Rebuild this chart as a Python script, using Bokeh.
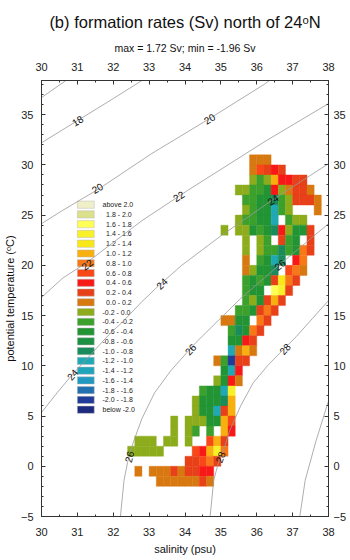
from bokeh.plotting import figure
from bokeh.models import Range1d, LinearAxis, FixedTicker, ColumnDataSource, LinearColorMapper, Title
from bokeh.transform import transform
from bokeh.core.properties import value
from bokeh.embed import file_html
from bokeh.resources import INLINE

FONT = "Liberation Sans"

# ---------------- data ----------------
title_text = "(b) formation rates (Sv) north of 24\u1d52N"
subtitle_text = "max = 1.72 Sv; min = -1.96 Sv"
x_title = "salinity (psu)"
y_title = "potential temperature (\u1d52C)"

sal_ticks = [30, 31, 32, 33, 34, 35, 36, 37, 38]
sal_minor = [30.5, 31.5, 32.5, 33.5, 34.5, 35.5, 36.5, 37.5]
temp_ticks = [-5, 0, 5, 10, 15, 20, 25, 30, 35]
temp_minor = list(range(-5, 39))

cell_dS = 0.2   # salinity bin width (psu)
cell_dT = 1.0   # temperature bin height (degC)

# bin edges of the colour classes and colours (low -> high), incl. below/above
bin_edges = [-2.0, -1.8, -1.6, -1.4, -1.2, -1.0, -0.8, -0.6, -0.4, -0.2, 0.0,
             0.2, 0.4, 0.6, 0.8, 1.0, 1.2, 1.4, 1.6, 1.8, 2.0]
palette = ["#1c2a80", "#203c98", "#2070b0", "#2098c0", "#20a4bc", "#20a8b4",
           "#1a8c5c", "#1a9040", "#229434", "#3ca02c", "#8cac1c",
           "#d87810", "#e84018", "#f81818", "#f84818", "#f87818", "#f8b010",
           "#f8e818", "#f8f028", "#ffff58", "#dce08c", "#f0f0c8"]

# formation-rate grid: bottom temperature of each row, left salinity of each cell, value (Sv)
row_T = [30, 29, 28, 27, 26, 25, 24, 23, 22, 21, 20, 19, 18, 17, 16, 15, 14, 13,
         12, 11, 10, 9, 8, 7, 6, 5, 4, 3, 2, 1, 0, -1, -2]
row_S = [
    [35.8, 36.0, 36.2],
    [35.8, 36.0, 36.2, 36.4, 36.6],
    [35.8, 36.0, 36.2, 36.4, 36.6, 36.8, 37.0, 37.2],
    [35.4, 35.6, 35.8, 36.0, 36.2, 36.4, 36.6, 36.8, 37.0, 37.2, 37.4],
    [35.6, 35.8, 36.0, 36.2, 36.4, 36.6, 36.8, 37.0, 37.2, 37.4, 37.6],
    [35.6, 35.8, 36.0, 36.2, 36.4, 36.6, 36.8, 37.6],
    [35.4, 35.6, 35.8, 36.0, 36.2, 36.4, 36.8, 37.0, 37.2],
    [35.0, 35.4, 35.6, 35.8, 36.0, 36.2, 36.4, 36.6, 36.8, 37.0, 37.2, 37.4],
    [35.6, 36.0, 36.2, 36.6, 36.8, 37.0, 37.4],
    [35.6, 36.0, 36.2, 36.4, 36.6, 36.8, 37.0, 37.2, 37.4],
    [35.6, 36.0, 36.2, 36.4, 36.6, 37.0, 37.2],
    [35.6, 35.8, 36.0, 36.2, 36.4, 36.8, 37.0, 37.2],
    [35.6, 35.8, 36.0, 36.2, 36.4, 36.6, 36.8, 37.0],
    [35.6, 35.8, 36.0, 36.4, 36.6, 36.8],
    [35.6, 35.8, 36.0, 36.2, 36.4, 36.6],
    [35.4, 35.6, 35.8, 36.0, 36.2, 36.4],
    [35.0, 35.2, 35.4, 35.6, 36.0, 36.2],
    [35.2, 35.4, 35.6, 35.8, 36.0],
    [35.2, 35.4, 35.6, 35.8],
    [35.2, 35.4, 35.6, 35.8],
    [34.8, 35.0, 35.2, 35.4, 35.6],
    [35.0, 35.2, 35.4],
    [34.8, 35.0, 35.2, 35.4],
    [34.4, 34.6, 34.8, 35.0, 35.2],
    [34.2, 34.4, 34.6, 34.8, 35.0, 35.2],
    [34.2, 34.4, 34.6, 34.8, 35.0, 35.2],
    [33.6, 34.0, 34.2, 34.4, 34.6, 34.8, 35.0, 35.2],
    [33.6, 34.0, 34.2, 34.6, 35.0, 35.2],
    [32.6, 32.8, 33.0, 33.4, 33.6, 34.0, 34.6, 34.8, 35.0],
    [32.4, 32.6, 32.8, 33.0, 33.2, 34.2, 34.4, 34.6, 34.8, 35.0],
    [34.0, 34.2, 34.4, 34.6, 34.8],
    [32.6, 33.0, 33.2, 33.4, 33.6, 33.8, 34.0, 34.2, 34.4, 34.6],
    [33.2, 33.4, 33.6, 33.8, 34.0, 34.2, 34.4, 34.6],
]
row_v = [
    [0.12, 0.08, 0.15],
    [0.11, 0.66, 0.33, 0.52, 0.36],
    [-0.08, -0.31, -0.12, 1.08, 0.48, 0.55, 0.32, 0.27],
    [-0.14, -0.06, -0.33, -0.28, -0.52, 0.47, -0.11, 0.09, 0.31, 0.35, 0.13],
    [-0.27, -0.35, -0.55, -0.48, -0.86, -0.38, -0.15, 0.34, 0.29, 0.37, 0.07],
    [-0.09, -0.33, -0.51, -0.57, -1.08, -0.29, -0.13, 0.14],
    [-0.12, -0.25, -0.36, -0.53, -0.47, -1.12, -0.31, -0.07, -0.16],
    [-0.11, -0.17, -0.05, -0.54, -0.32, -0.58, -0.88, 0.51, -0.13, -0.46, -0.52, 0.28],
    [-0.14, -0.08, -0.34, 0.27, -0.29, -0.49, 0.33],
    [-0.12, -0.16, -0.26, -0.37, -0.91, -0.31, -0.55, 0.86, 0.31],
    [0.08, -0.33, -0.56, -1.05, -0.84, 0.46, 0.93],
    [0.13, -0.07, -0.49, -0.53, -0.85, 0.64, 0.87, 0.11],
    [-0.33, -0.52, -0.28, -0.57, 0.35, 1.34, 0.91, 0.29],
    [-0.36, -0.55, -0.47, 1.72, 1.47, 0.38],
    [-0.31, -0.11, -0.52, 0.36, 1.06, 0.33],
    [-0.27, -0.35, -0.46, 0.29, 0.85, 0.27],
    [0.12, 0.09, -0.53, -0.58, 0.92, 0.31],
    [-0.32, -0.87, -0.51, 0.88, 0.34],
    [-0.49, -0.56, 0.52, 0.37],
    [-1.09, 0.14, 1.04, 0.06],
    [0.11, -0.29, -1.96, 0.33, 0.25],
    [-0.52, -1.13, 0.49],
    [-0.09, -0.46, 0.55, 0.12],
    [-0.34, -0.51, -0.55, -1.07, 1.45],
    [-0.13, -0.47, -0.54, -0.58, -0.83, 1.13],
    [-0.08, -0.45, -0.52, -1.06, 0.32, 1.09],
    [-0.12, -0.06, -0.15, -0.11, -0.49, -0.57, 1.07, 0.74],
    [-0.13, -0.09, -0.35, -0.31, 1.12, 0.54],
    [-0.11, -0.14, -0.08, -0.12, -0.17, -0.05, 0.68, 1.15, 0.34],
    [-0.07, -0.13, -0.16, -0.09, -0.12, 0.71, 0.53, 1.09, 1.52, 0.86],
    [0.33, 0.28, 0.69, 0.92, 0.35],
    [0.09, 0.13, 0.11, 0.07, 0.32, 0.14, 0.36, 0.29, 0.47, 0.53],
    [0.12, 0.08, 0.15, 0.11, 0.09, 0.13, 0.38, 0.06],
]

# potential density (sigma-0) contours: salinity / temperature points
contour_S = [
    [30.0, 30.68],
    [30.0, 31.0, 32.0, 32.8],
    [30.0, 30.58, 31.61, 33.07, 34.68, 36.2, 36.35],
    [30.0, 30.58, 31.27, 32.8, 34.07, 36.26, 38.0],
    [30.0, 30.44, 30.86, 31.91, 32.24, 32.8, 33.27, 33.9, 35.01, 36.45, 38.0],
    [32.2, 32.3, 32.4, 32.55, 32.8, 33.15, 33.6, 34.3, 35.55, 36.65, 38.0],
    [34.7, 34.8, 34.95, 35.1, 35.25, 35.55, 35.9, 36.3, 36.65, 37.1, 37.55, 38.0],
    [37.2, 37.35, 37.65, 38.0],
]
contour_T = [
    [36.7, 38.4],
    [32.2, 34.4, 36.6, 38.4],
    [24.15, 25.45, 27.64, 31.12, 34.6, 38.0, 38.4],
    [16.8, 18.7, 20.3, 24.45, 27.45, 32.4, 36.1],
    [5.35, 7.34, 9.13, 13.21, 14.3, 16.39, 17.99, 19.98, 22.96, 26.54, 30.12],
    [-5.0, -1.4, 0.4, 2.3, 4.75, 7.3, 9.5, 12.3, 16.7, 20.1, 24.15],
    [-5.0, -1.4, 0.6, 1.9, 3.6, 6.0, 8.3, 10.0, 11.3, 12.9, 14.7, 16.5],
    [-5.0, -1.4, 2.5, 6.5],
]
clabel_text = ["18", "20", "20", "22", "22", "24", "24", "24", "26", "26", "26", "28", "28"]
clabel_S = [31.0, 31.55, 34.68, 31.27, 33.82, 30.86, 33.35, 36.45, 32.44, 34.15, 36.64, 34.98, 36.78]
clabel_T = [34.4, 27.7, 34.6, 20.1, 26.9, 9.13, 18.2, 26.54, 0.95, 11.65, 20.07, 0.9, 11.7]
clabel_angle = [31, 31, 32, 37, 33, 49, 44, 34, 75, 47, 39, 70, 48]

# ---------------- figure ----------------
p = figure(width=350, height=560,
           x_range=Range1d(30, 38), y_range=Range1d(-5, 38.4),
           x_axis_type=None, y_axis_type=None,
           output_backend="svg", toolbar_location=None,
           min_border_left=39, min_border_right=22, min_border_top=80, min_border_bottom=44)
p.outline_line_color = "#333333"
p.background_fill_color = "white"
p.border_fill_color = "white"


def style_axis(ax, standoff):
    ax.major_tick_in = 4
    ax.major_tick_out = 0
    ax.minor_tick_in = 2
    ax.minor_tick_out = 0
    ax.axis_line_color = "#333333"
    ax.major_tick_line_color = "#333333"
    ax.minor_tick_line_color = "#333333"
    ax.major_label_text_font = FONT
    ax.major_label_text_font_size = "11px"
    ax.major_label_text_color = "#222222"
    ax.major_label_standoff = standoff
    ax.axis_label_text_font = FONT
    ax.axis_label_text_font_size = "11px"
    ax.axis_label_text_font_style = "normal"
    ax.axis_label_text_color = "#111111"
    return ax


xb = style_axis(LinearAxis(ticker=FixedTicker(ticks=sal_ticks, minor_ticks=sal_minor)), 11)
xb.axis_label = x_title
xb.axis_label_standoff = 4
xt = style_axis(LinearAxis(ticker=FixedTicker(ticks=sal_ticks, minor_ticks=sal_minor)), 10)
yl = style_axis(LinearAxis(ticker=FixedTicker(ticks=temp_ticks, minor_ticks=temp_minor)), 8)
yl.axis_label = y_title
yl.axis_label_standoff = 2
yr = style_axis(LinearAxis(ticker=FixedTicker(ticks=temp_ticks, minor_ticks=temp_minor)), 5)
p.add_layout(xb, "below")
p.add_layout(xt, "above")
p.add_layout(yl, "left")
p.add_layout(yr, "right")

# titles above the top axis
p.add_layout(Title(text=subtitle_text, align="center", text_font=FONT, text_font_size="10.5px",
                   text_font_style="normal", text_color="#111111", standoff=12), "above")
p.add_layout(Title(text=title_text, align="center", text_font=FONT, text_font_size="16.5px",
                   text_font_style="normal", text_color="#111111", standoff=5), "above")

# grid cells
cs, ct, cv = [], [], []
for T, Ss, vs in zip(row_T, row_S, row_v):
    for s, v in zip(Ss, vs):
        cs.append(s)
        ct.append(T)
        cv.append(v)
src = ColumnDataSource(dict(left=cs, right=[s + cell_dS for s in cs],
                            bottom=ct, top=[t + cell_dT for t in ct], v=cv))
mapper = LinearColorMapper(palette=palette, low=-2.2, high=2.2,
                           low_color=palette[0], high_color=palette[-1])
p.quad(left="left", right="right", bottom="bottom", top="top", source=src,
       fill_color=transform("v", mapper), line_color=transform("v", mapper), line_width=0.4)

# legend (colour key)
n_cls = len(palette)
leg_colors = palette[::-1]
leg_labels = ["above  %.1f" % bin_edges[-1]]
for i in range(len(bin_edges) - 1, 0, -1):
    leg_labels.append("%.1f - %.1f" % (bin_edges[i - 1], bin_edges[i]))
leg_labels.append("below %.1f" % bin_edges[0])
leg_top, leg_step = 26.04, 0.972
leg_T = [leg_top - leg_step * k for k in range(n_cls)]
leg_x_text = [31.70 if lab.startswith("-") or lab[0].isalpha() else 31.80 for lab in leg_labels]
p.rect(x=[31.235] * n_cls, y=leg_T, width=0.47, height=0.72,
       fill_color=leg_colors, line_color="#b8b8b8", line_width=0.5)
p.text(x=leg_x_text, y=leg_T, text=leg_labels, text_font=value(FONT),
       text_font_size=value("7px"), text_baseline="middle", text_align="left",
       text_color="#222222")

# density contours
p.multi_line(xs=contour_S, ys=contour_T, line_color="#999999", line_width=0.8)
p.text(x=clabel_S, y=clabel_T, text=clabel_text, angle=clabel_angle, angle_units="deg",
       text_font=value(FONT), text_font_size=value("10px"), text_align="center",
       text_baseline="middle", text_color="#111111")

open("out.html", "w").write(file_html(p, INLINE))
